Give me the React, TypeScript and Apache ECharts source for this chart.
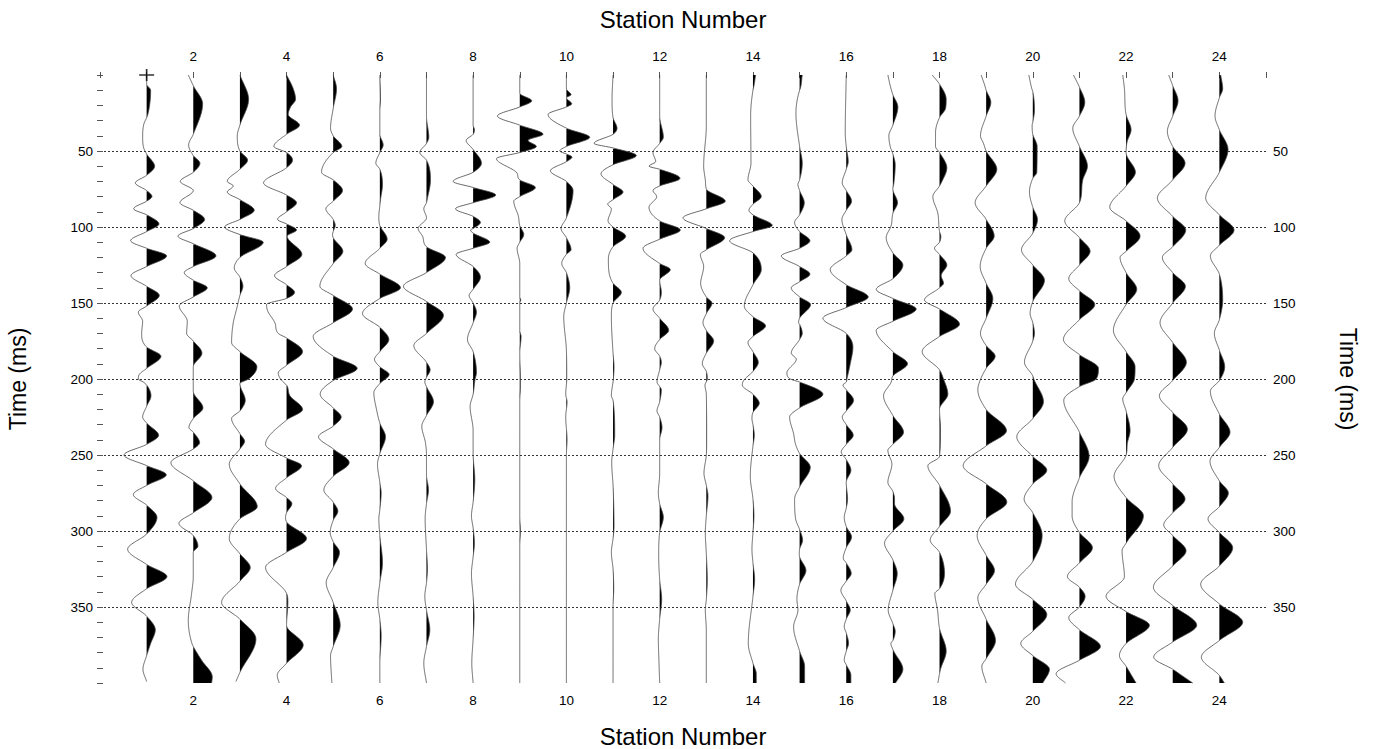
import React, { useEffect, useRef } from "react";
import * as echarts from "echarts";

// Station numbers and time ticks
const stationLabels = [2, 4, 6, 8, 10, 12, 14, 16, 18, 20, 22, 24];
const stationTicks = Array.from({ length: 26 }, (_, i) => i);
const timeLabels = [50, 100, 150, 200, 250, 300, 350];

// Amplitude units per one station spacing
const AMP_PER_STATION = 140;

// Each trace: [time in ms, amplitude]
const trace01 = [[0,0],[6,0],[10,12],[18,10],[27,2],[32,-8],[40,-12],[47,-10],[52,0],[60,24],[66,0],[71,-34],[76,0],[80,16],[83,0],[88,-39],[92,0],[98,37],[103,0],[109,-48],[114,0],[119,60],[126,0],[132,-47],[139,0],[145,38],[152,0],[156,-25],[162,-12],[170,-15],[175,-12],[179,0],[185,43],[193,0],[197,-22],[200,-25],[202,-10],[204,0],[211,13],[218,0],[225,-12],[229,0],[237,36],[243,0],[250,-68],[257,0],[263,59],[270,0],[276,-40],[283,0],[291,31],[302,0],[312,-57],[322,0],[330,61],[338,0],[347,-45],[356,0],[365,26],[374,12],[382,0],[391,-11],[399,0]];
const trace02 = [[0,-15],[7,0],[19,28],[39,0],[46,-14],[53,0],[58,20],[64,0],[70,-39],[76,0],[84,-40],[89,0],[95,34],[101,0],[106,-46],[111,0],[119,68],[126,0],[130,-27],[135,0],[140,42],[146,0],[152,-42],[162,-18],[170,-20],[175,0],[183,26],[192,0],[200,0],[208,0],[219,29],[226,0],[232,-13],[235,0],[242,19],[246,0],[255,-67],[267,0],[278,56],[288,0],[295,-43],[303,0],[310,14],[314,0],[330,0],[341,-5],[359,-15],[374,-4],[376,0],[385,25],[396,57],[400,55]];
const trace03 = [[0,0],[16,26],[33,0],[40,-8],[50,0],[56,23],[62,0],[70,-38],[73,-20],[77,-38],[82,0],[89,43],[95,0],[100,-46],[105,0],[110,70],[120,0],[127,-17],[133,0],[139,9],[145,0],[154,-10],[163,-20],[176,-25],[182,0],[192,51],[200,26],[203,0],[214,16],[221,0],[226,-25],[236,0],[241,14],[246,0],[256,-32],[269,0],[284,52],[292,0],[305,-32],[315,0],[324,31],[333,0],[347,-55],[358,0],[371,48],[393,0],[399,-12]];
const trace04 = [[0,0],[9,20],[16,27],[21,12],[26,5],[33,39],[39,0],[47,-38],[51,0],[56,18],[61,0],[71,-69],[79,0],[84,30],[90,0],[95,-27],[98,0],[102,30],[106,2],[118,46],[126,0],[132,-36],[138,0],[143,24],[147,0],[151,-60],[155,-57],[163,-35],[170,-25],[173,0],[182,48],[191,0],[196,-25],[200,-18],[203,-5],[204,0],[211,10],[220,48],[227,0],[243,-63],[252,0],[257,45],[265,0],[272,-33],[278,0],[282,16],[288,0],[291,-3],[294,0],[305,60],[314,0],[324,-63],[341,0],[347,4],[362,0],[375,50],[387,0],[395,-28],[400,-22]];
const trace05 = [[0,0],[9,10],[22,0],[35,-8],[40,0],[47,26],[51,0],[64,-35],[69,0],[76,28],[83,0],[88,-22],[95,0],[99,6],[103,0],[105,-2],[107,0],[116,29],[124,0],[139,-40],[145,0],[154,58],[163,0],[172,-60],[185,0],[193,72],[201,0],[210,-39],[219,0],[225,24],[231,0],[238,-44],[246,0],[255,48],[264,0],[273,-28],[281,0],[287,14],[293,0],[301,-9],[307,0],[314,19],[324,0],[334,-21],[347,0],[362,21],[376,0],[382,-8],[400,-4]];
const trace06 = [[0,0],[16,2],[24,0],[39,0],[46,10],[51,0],[58,-12],[62,0],[72,8],[82,2],[86,0],[93,-3],[99,0],[108,22],[114,0],[124,-44],[131,0],[140,62],[147,0],[157,-52],[166,0],[174,27],[182,0],[187,-16],[192,0],[197,28],[203,0],[209,-18],[220,-10],[229,0],[238,17],[249,0],[256,-7],[268,0],[275,4],[286,0],[292,-3],[303,0],[321,8],[334,0],[347,-6],[358,0],[369,4],[387,0],[400,0]];
const trace07 = [[0,0],[27,0],[41,7],[45,0],[51,-20],[56,0],[69,12],[82,2],[84,0],[88,-8],[94,0],[101,-25],[106,-12],[113,0],[120,57],[130,0],[139,-69],[149,0],[158,51],[170,0],[178,-38],[189,0],[194,11],[199,0],[202,-5],[205,0],[215,21],[224,0],[231,-14],[242,-3],[250,0],[263,0],[273,6],[282,0],[292,-4],[312,0],[325,3],[334,0],[343,-5],[352,0],[365,10],[376,0],[387,-8],[400,0]];
const trace08 = [[0,0],[33,0],[36,4],[39,0],[43,-21],[49,0],[58,25],[64,0],[70,-60],[74,0],[79,68],[84,0],[88,-53],[93,0],[97,22],[101,0],[102,-8],[104,0],[110,50],[114,0],[118,-51],[126,0],[133,22],[141,0],[145,-12],[150,0],[156,10],[163,0],[174,-17],[182,0],[196,10],[200,6],[210,0],[218,-9],[234,0],[249,0],[266,5],[281,0],[290,-5],[298,0],[308,4],[317,0],[328,-5],[343,0],[356,3],[371,0],[387,-4],[400,0]];
const trace09 = [[0,0],[12,0],[17,36],[21,0],[27,-67],[33,0],[39,70],[43,25],[47,50],[51,0],[55,-70],[64,-10],[69,0],[74,47],[80,0],[83,-18],[93,-4],[99,0],[105,12],[110,0],[114,-8],[124,0],[146,0],[148,3],[150,0],[168,0],[172,4],[183,0],[200,2],[205,2],[215,0],[290,0],[300,2],[310,0],[400,0]];
const trace10 = [[0,0],[9,0],[13,14],[15,0],[19,16],[21,0],[26,-55],[35,0],[41,70],[47,0],[50,-20],[52,0],[54,17],[57,0],[63,-48],[70,0],[76,20],[94,0],[101,-16],[107,0],[115,14],[118,0],[124,-14],[130,0],[140,10],[150,0],[159,-8],[181,0],[200,1],[210,-2],[215,2],[225,-2],[240,2],[250,0],[400,0]];
const trace11 = [[0,0],[16,-3],[28,0],[35,12],[39,0],[45,-57],[48,0],[53,70],[59,0],[65,-36],[72,0],[77,30],[82,0],[85,-16],[88,-5],[96,-15],[100,0],[106,38],[113,0],[121,-14],[130,-12],[137,0],[143,25],[150,0],[159,-5],[183,0],[192,3],[200,1],[211,-5],[214,0],[237,5],[246,0],[255,-4],[270,0],[297,3],[305,0],[314,-5],[325,0],[338,2],[350,0],[400,0]];
const trace12 = [[0,0],[27,0],[41,11],[45,0],[51,-20],[57,-12],[60,-32],[62,0],[68,61],[73,0],[76,-20],[80,-9],[87,-32],[96,0],[102,62],[108,0],[114,-50],[124,0],[128,32],[135,0],[143,5],[148,0],[154,-20],[160,0],[168,27],[174,0],[180,-15],[185,0],[189,5],[194,0],[202,-8],[205,0],[207,5],[215,0],[221,-8],[225,0],[232,7],[240,0],[262,0],[275,-4],[282,0],[291,11],[301,0],[316,-3],[332,0],[345,6],[358,0],[371,-4],[387,-2],[400,0]];
const trace13 = [[0,0],[33,0],[60,-8],[69,-3],[75,0],[83,57],[88,0],[94,-70],[101,0],[107,55],[115,0],[118,-18],[126,-8],[137,-17],[146,0],[150,17],[157,0],[163,-10],[168,0],[175,22],[183,0],[190,-12],[195,0],[200,3],[204,-4],[210,0],[240,1],[250,0],[262,-7],[270,0],[277,5],[290,0],[301,-3],[315,0],[332,3],[345,0],[352,-3],[365,0],[400,0]];
const trace14 = [[0,8],[7,3],[10,0],[27,-7],[58,-6],[69,-15],[73,0],[80,25],[85,0],[89,-12],[92,0],[99,58],[103,0],[109,-70],[117,0],[128,25],[138,0],[152,-26],[159,0],[165,38],[172,0],[176,-15],[182,0],[189,16],[195,0],[201,-28],[204,-32],[210,0],[216,19],[222,0],[226,-3],[230,0],[237,4],[244,0],[264,-8],[279,0],[290,3],[301,0],[312,-3],[321,0],[332,5],[343,0],[374,-14],[387,0],[394,10],[400,10]];
const trace15 = [[0,8],[9,2],[10,0],[25,-11],[47,0],[58,8],[69,0],[72,-5],[76,0],[84,14],[92,0],[97,-15],[103,0],[109,31],[114,0],[119,-55],[126,0],[131,31],[136,0],[140,-25],[146,0],[151,33],[160,0],[163,-3],[164,0],[170,8],[174,0],[183,-25],[187,-10],[196,-38],[200,-28],[202,0],[210,70],[219,0],[225,-30],[236,-18],[243,-12],[249,0],[258,32],[271,0],[279,-15],[292,-12],[299,0],[306,9],[312,0],[315,-1],[317,0],[326,19],[335,0],[345,-8],[352,-5],[363,-18],[379,0],[389,15],[400,15]];
const trace16 = [[0,0],[38,-3],[47,0],[57,6],[62,0],[71,-12],[76,0],[83,16],[89,0],[95,-13],[105,0],[115,17],[119,0],[128,-48],[138,0],[146,66],[153,0],[160,-70],[170,0],[179,20],[190,12],[200,2],[202,0],[204,-10],[207,0],[214,22],[221,0],[225,-12],[230,0],[237,21],[243,0],[248,-15],[253,0],[260,14],[268,0],[279,4],[285,0],[291,-6],[297,0],[304,16],[311,0],[318,-9],[321,0],[328,15],[333,0],[339,-16],[346,0],[352,12],[358,0],[363,-6],[367,0],[374,7],[379,0],[385,-6],[388,0],[395,14],[400,14]];
const trace17 = [[0,-15],[7,-8],[13,0],[21,15],[33,0],[40,-12],[47,-8],[52,0],[59,7],[71,3],[75,0],[84,14],[91,0],[99,-5],[107,-20],[117,0],[125,30],[134,0],[141,-50],[147,0],[154,70],[162,0],[168,-50],[182,0],[190,44],[198,0],[202,-5],[211,-28],[224,0],[235,32],[243,0],[247,-15],[256,-3],[268,-15],[274,0],[279,5],[282,5],[292,33],[300,0],[308,-25],[319,0],[328,13],[339,0],[352,-14],[361,0],[366,7],[372,0],[374,-6],[378,0],[391,30],[400,8]];
const trace18 = [[0,-22],[6,0],[16,20],[22,18],[28,0],[38,-12],[47,-12],[51,0],[61,22],[71,5],[73,0],[80,-20],[91,-5],[103,0],[106,4],[110,0],[114,-15],[118,0],[125,22],[132,5],[137,12],[140,0],[148,-45],[154,0],[164,60],[172,0],[182,-52],[194,0],[200,12],[210,25],[220,0],[233,3],[251,0],[257,-35],[270,0],[287,33],[297,0],[306,-28],[314,0],[328,15],[338,0],[341,-14],[352,-6],[364,0],[379,20],[391,3],[400,-5]];
const trace19 = [[0,-15],[7,-4],[10,0],[18,14],[27,0],[40,-17],[45,-8],[50,0],[62,32],[73,0],[84,-33],[95,0],[106,24],[114,0],[126,-18],[137,0],[147,20],[160,0],[170,-17],[178,0],[185,27],[193,0],[202,-20],[207,-25],[220,0],[234,61],[244,0],[257,-69],[269,0],[281,62],[292,0],[303,-27],[316,0],[326,25],[335,0],[344,-25],[358,0],[372,28],[384,0],[389,-13],[400,0]];
const trace20 = [[0,-12],[9,-3],[11,0],[23,5],[31,0],[33,-2],[39,0],[47,13],[64,12],[68,0],[77,-10],[87,0],[95,14],[104,0],[115,-34],[125,0],[135,35],[149,0],[157,-8],[163,0],[170,5],[175,0],[189,-25],[198,0],[200,3],[215,32],[226,0],[238,-48],[251,0],[260,42],[269,0],[279,-26],[288,0],[303,28],[320,0],[335,-52],[345,0],[355,42],[366,0],[374,-36],[382,0],[391,50],[400,30]];
const trace21 = [[0,-18],[8,0],[18,16],[27,0],[35,-20],[47,0],[60,24],[69,10],[84,0],[96,-44],[107,0],[116,32],[125,0],[134,-32],[142,0],[151,46],[161,0],[174,-48],[184,0],[193,57],[200,50],[205,0],[214,-47],[235,0],[251,29],[265,0],[281,-22],[290,-22],[301,0],[311,39],[321,0],[330,-36],[337,0],[343,17],[350,0],[357,-32],[365,0],[376,63],[385,0],[394,-70],[400,-42]];
const trace22 = [[0,-10],[9,-5],[26,0],[36,15],[44,3],[51,0],[64,28],[73,0],[87,-49],[96,0],[106,42],[116,0],[120,-18],[130,0],[141,32],[151,0],[168,-38],[182,0],[192,27],[200,25],[209,0],[213,-10],[221,0],[234,12],[242,4],[250,0],[264,-36],[278,0],[290,52],[308,0],[313,-12],[330,-5],[343,-60],[353,0],[362,70],[374,0],[382,-20],[389,0],[400,30]];
const trace23 = [[0,-12],[7,0],[17,16],[27,0],[37,-16],[47,0],[58,37],[69,0],[81,-46],[93,0],[102,39],[113,0],[120,-31],[130,0],[139,38],[150,0],[163,-38],[176,0],[189,41],[201,0],[211,-40],[222,0],[233,44],[245,0],[257,-42],[269,0],[279,37],[288,0],[296,-27],[303,0],[313,40],[323,0],[337,-58],[349,0],[362,72],[373,0],[383,-57],[391,0],[400,60]];
const trace24 = [[0,4],[9,10],[15,0],[27,-13],[36,0],[49,26],[64,0],[81,-41],[92,0],[102,44],[112,0],[119,-27],[131,0],[148,10],[161,0],[170,-15],[181,0],[192,16],[201,0],[208,-27],[223,0],[235,32],[245,0],[254,-28],[267,0],[275,27],[284,0],[292,-34],[301,0],[311,40],[323,0],[335,-56],[348,0],[360,70],[372,0],[383,-54],[395,0],[400,15]];

const traces = [
  trace01, trace02, trace03, trace04, trace05, trace06, trace07, trace08,
  trace09, trace10, trace11, trace12, trace13, trace14, trace15, trace16,
  trace17, trace18, trace19, trace20, trace21, trace22, trace23, trace24,
];

// Shot marker position: [station, time]
const shotMarker = [[1, 0]];

const FONT = "'Liberation Sans', Arial, sans-serif";

// Monotone cubic rendering of the read points, for a smooth wiggle
function resample(tr: number[][], step = 0.5): number[][] {
  const n = tr.length;
  const sec: number[] = [];
  for (let i = 0; i < n - 1; i++) sec.push((tr[i + 1][1] - tr[i][1]) / (tr[i + 1][0] - tr[i][0]));
  const m: number[] = new Array(n).fill(0);
  m[0] = sec[0];
  m[n - 1] = sec[n - 2];
  for (let i = 1; i < n - 1; i++) {
    if (sec[i - 1] * sec[i] > 0) {
      const mean = (sec[i - 1] + sec[i]) / 2;
      const lim = 3 * Math.min(Math.abs(sec[i - 1]), Math.abs(sec[i]));
      m[i] = Math.sign(mean) * Math.min(Math.abs(mean), lim);
    }
  }
  const out: number[][] = [];
  for (let i = 0; i < n - 1; i++) {
    const [t0, a0] = tr[i];
    const [t1, a1] = tr[i + 1];
    const h = t1 - t0;
    const k = Math.max(1, Math.ceil(h / step));
    for (let j = 0; j < k; j++) {
      const u = j / k;
      const u2 = u * u;
      const u3 = u2 * u;
      const a =
        (2 * u3 - 3 * u2 + 1) * a0 + (u3 - 2 * u2 + u) * h * m[i] +
        (-2 * u3 + 3 * u2) * a1 + (u3 - u2) * h * m[i + 1];
      out.push([t0 + u * h, a]);
    }
  }
  out.push(tr[n - 1]);
  return out;
}

function makeSeries(tr: number[][], index: number) {
  const station = index + 1;
  const dense = resample(tr);
  return {
    name: `Station ${station}`,
    type: "custom",
    coordinateSystem: "cartesian2d",
    silent: true,
    z: 3,
    encode: { x: 0, y: 1 },
    data: tr.map(([t, a]) => [station + a / AMP_PER_STATION, t]),
    renderItem: (params: any, api: any) => {
      if (params.dataIndex !== 0) return null;
      const pt = (t: number, a: number) => api.coord([station + a / AMP_PER_STATION, t]);
      const children: any[] = [];
      let lobe: number[][] | null = null;
      for (let i = 0; i < dense.length; i++) {
        const [t, a] = dense[i];
        if (a > 0) {
          if (!lobe) {
            lobe = [pt(t, 0)];
          }
          lobe.push(pt(t, a));
        }
        if (lobe && (a <= 0 || i === dense.length - 1)) {
          lobe.push(pt(t, 0));
          children.push({ type: "polygon", shape: { points: lobe }, style: { fill: "#000" } });
          lobe = null;
        }
      }
      children.push({
        type: "polyline",
        shape: { points: dense.map(([t, a]) => pt(t, a)) },
        style: { stroke: "#444", lineWidth: 0.8, fill: null },
      });
      return { type: "group", children };
    },
  };
}

const labelStyle = { color: "#000", fontFamily: FONT, fontSize: 13.5 };

function xAxis(position: string, nameGap: number, margin: number) {
  return {
    type: "value",
    position,
    min: 0,
    max: 25,
    name: "Station Number",
    nameLocation: "middle",
    nameGap,
    nameTextStyle: { color: "#000", fontFamily: FONT, fontSize: 24 },
    axisLine: { show: false },
    axisTick: { show: true, inside: true, length: 3, customValues: stationTicks, lineStyle: { color: "#555", width: 1 } },
    axisLabel: { show: true, customValues: stationLabels, margin, ...labelStyle },
    splitLine: { show: false },
  };
}

function yAxis(position: string, nameRotate: number, nameGap: number, grid: boolean) {
  return {
    type: "value",
    position,
    inverse: true,
    min: 0,
    max: 400,
    interval: 50,
    name: "Time (ms)",
    nameLocation: "middle",
    nameRotate,
    nameGap,
    nameTextStyle: { color: "#000", fontFamily: FONT, fontSize: 23 },
    axisLine: { show: false },
    axisTick: { show: true, inside: true, length: 3, lineStyle: { color: "#555", width: 1 } },
    minorTick: { show: true, splitNumber: 5, length: 3, lineStyle: { color: "#555", width: 1 } },
    axisLabel: { show: true, customValues: timeLabels, margin: 7, ...labelStyle },
    splitLine: {
      show: grid,
      showMinLine: false,
      showMaxLine: false,
      lineStyle: { color: "#333", width: 1, type: [2, 2] },
    },
  };
}

export default function App() {
  const ref = useRef<HTMLDivElement>(null);
  useEffect(() => {
    document.body.style.margin = "0";
    const chart = echarts.init(ref.current!, null, { renderer: "svg" });
    chart.setOption({
      animation: false,
      backgroundColor: "#fff",
      grid: { left: 100, top: 75, width: 1166, height: 608, containLabel: false, outerBoundsMode: "none" },
      xAxis: [xAxis("bottom", 41, 10), xAxis("top", 44, 12)],
      yAxis: [yAxis("left", 90, 71, true), yAxis("right", -90, 70, false)],
      series: [
        ...traces.map(makeSeries),
        {
          name: "Shot",
          type: "scatter",
          data: shotMarker,
          clip: false,
          silent: true,
          z: 5,
          symbol: "path://M0 6H15M7.5 0V12",
          symbolSize: [15, 12],
          itemStyle: { color: "none", borderColor: "#000", borderWidth: 1.5 },
        },
      ],
    });
    return () => chart.dispose();
  }, []);
  return <div ref={ref} style={{ position: "absolute", left: 0, top: 0, width: 1377, height: 749 }} />;
}
